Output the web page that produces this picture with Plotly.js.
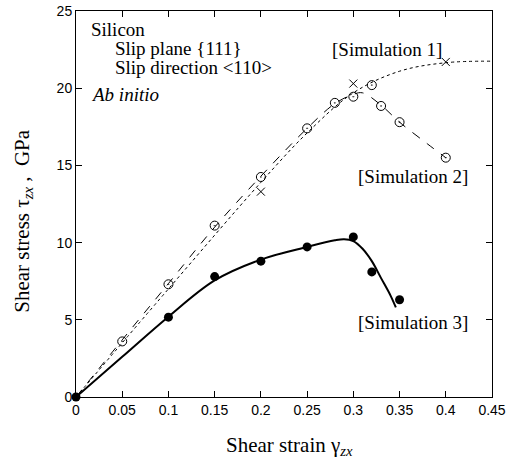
<!DOCTYPE html>
<html><head><meta charset="utf-8">
<script src="https://cdn.plot.ly/plotly-3.0.1.min.js"></script>
<style>html,body{margin:0;padding:0;background:#fff}#chart{width:517px;height:465px}</style>
</head><body><div id="chart"></div>
<script>
// Simulation 1 (crosses, dotted)
const sim1X = [0.2, 0.3, 0.4];
const sim1Y = [13.3, 20.3, 21.7];
const sim1LineX = [0, 0.1, 0.2, 0.25, 0.3, 0.35, 0.4, 0.45];
const sim1LineY = [0, 7.0, 13.9, 17.1, 19.7, 21.1, 21.65, 21.75];
// Simulation 2 (open circles, dashed)
const sim2X = [0.05, 0.1, 0.15, 0.2, 0.25, 0.28, 0.3, 0.32, 0.33, 0.35, 0.4];
const sim2Y = [3.6, 7.3, 11.1, 14.25, 17.4, 19.05, 19.45, 20.2, 18.85, 17.8, 15.5];
const sim2LineX = [0, 0.05, 0.1, 0.15, 0.2, 0.25, 0.28, 0.3, 0.31, 0.33, 0.35, 0.38, 0.4];
const sim2LineY = [0, 3.7, 7.35, 11.0, 14.3, 17.4, 19.0, 19.6, 19.7, 18.9, 17.8, 16.4, 15.5];
// Simulation 3 (filled circles, solid)
const sim3X = [0, 0.1, 0.15, 0.2, 0.25, 0.3, 0.32, 0.35];
const sim3Y = [0, 5.17, 7.8, 8.8, 9.72, 10.37, 8.1, 6.3];
const sim3LineX = [0, 0.05, 0.1, 0.15, 0.2, 0.25, 0.28, 0.29, 0.3, 0.31, 0.32, 0.33, 0.34, 0.346];
const sim3LineY = [0, 2.6, 5.2, 7.55, 8.9, 9.72, 10.15, 10.22, 10.1, 9.6, 8.8, 7.7, 6.6, 5.8];

const xTicks = [0, 0.05, 0.1, 0.15, 0.2, 0.25, 0.3, 0.35, 0.4, 0.45];
const xTickText = ['0', '0.05', '0.1', '0.15', '0.2', '0.25', '0.3', '0.35', '0.4', '0.45'];
const yTicks = [0, 5, 10, 15, 20, 25];

const xTitle = 'Shear strain γ<sub><i>zx</i></sub>';
const yTitle = 'Shear stress τ<sub><i>zx</i></sub> ,  GPa';

const serif = 'Liberation Serif, Times New Roman, serif';
const sans = 'Liberation Sans, Arial, sans-serif';

const traces = [
  {x: sim1LineX, y: sim1LineY, mode: 'lines', line: {shape: 'spline', dash: 'dot', width: 1, color: '#000'}, hoverinfo: 'skip'},
  {x: sim2LineX, y: sim2LineY, mode: 'lines', line: {shape: 'spline', dash: 'dash', width: 1, color: '#000'}, hoverinfo: 'skip'},
  {x: sim3LineX, y: sim3LineY, mode: 'lines', line: {shape: 'spline', width: 2, color: '#000'}, hoverinfo: 'skip'},
  {x: sim1X, y: sim1Y, mode: 'markers', marker: {symbol: 'x-thin-open', size: 8, color: '#000', line: {width: 1, color: '#000'}}},
  {x: sim2X, y: sim2Y, mode: 'markers', marker: {symbol: 'circle-open-dot', size: 9, color: '#000', line: {width: 1, color: '#000'}}},
  {x: sim3X, y: sim3Y, mode: 'markers', cliponaxis: false, marker: {symbol: 'circle', size: 9, color: '#000'}}
];

const ann = (text, x, y, xa) => ({text: text, x: x, y: y, xref: 'x', yref: 'y', xanchor: xa, yanchor: 'middle', showarrow: false, font: {family: serif, size: 19, color: '#000'}});

const layout = {
  width: 517, height: 465,
  margin: {l: 76, r: 25, t: 11, b: 68},
  paper_bgcolor: '#fff', plot_bgcolor: '#fff',
  showlegend: false,
  xaxis: {
    range: [0, 0.45], tickvals: xTicks, ticktext: xTickText,
    ticks: 'inside', ticklen: 6, tickcolor: '#000', showline: true, linecolor: '#000', linewidth: 1, mirror: 'ticks',
    showgrid: false, zeroline: false,
    tickfont: {family: sans, size: 14, color: '#000'}
  },
  yaxis: {
    range: [0, 25], tickvals: yTicks,
    ticks: 'inside', ticklen: 6, tickcolor: '#000', showline: true, linecolor: '#000', linewidth: 1, mirror: 'ticks',
    showgrid: false, zeroline: false,
    tickfont: {family: sans, size: 14, color: '#000'}
  },
  annotations: [
    ann('Silicon', 0.014, 23.8, 'left'),
    ann('Slip plane {111}', 0.040, 22.55, 'left'),
    ann('Slip direction &lt;110&gt;', 0.040, 21.32, 'left'),
    ann('<i>Ab initio</i>', 0.014, 19.58, 'left'),
    ann('[Simulation 1]', 0.336, 22.5, 'center'),
    ann('[Simulation 2]', 0.364, 14.3, 'center'),
    ann('[Simulation 3]', 0.365, 4.8, 'center'),
    {text: xTitle, xref: 'paper', yref: 'paper', x: 0.514, y: -0.127, xanchor: 'center', yanchor: 'middle', showarrow: false, font: {family: serif, size: 21, color: '#000'}},
    {text: yTitle, xref: 'paper', yref: 'paper', x: -0.128, y: 0.456, xanchor: 'center', yanchor: 'middle', textangle: -90, showarrow: false, font: {family: serif, size: 21, color: '#000'}}
  ]
};

Plotly.newPlot('chart', traces, layout, {staticPlot: true, displayModeBar: false});
</script>
</body></html>
